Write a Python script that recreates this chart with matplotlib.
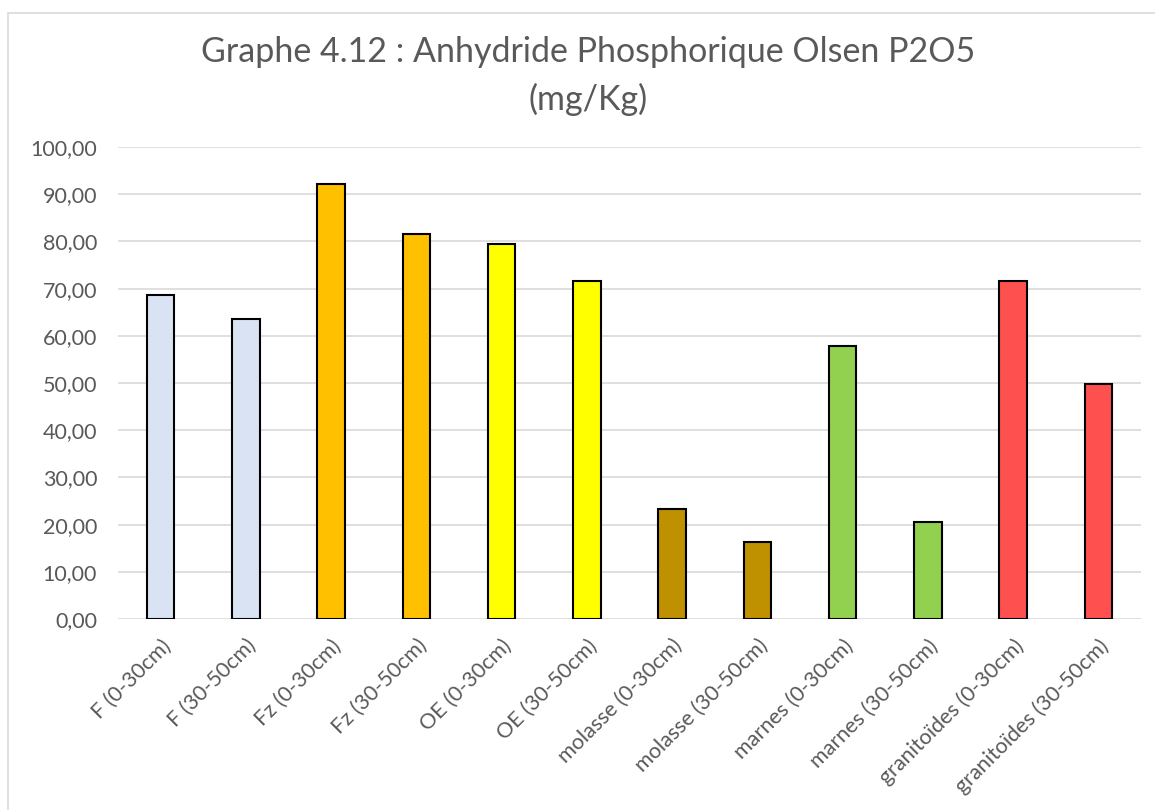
import matplotlib.pyplot as plt
from matplotlib.patches import Rectangle
from matplotlib.ticker import FuncFormatter

plt.rcParams['font.family'] = ['Lato', 'DejaVu Sans']

# P2O5 Olsen par formation et profondeur
categories = ['F (0-30cm)', 'F (30-50cm)', 'Fz (0-30cm)', 'Fz (30-50cm)',
              'OE (0-30cm)', 'OE (30-50cm)', 'molasse (0-30cm)', 'molasse (30-50cm)',
              'marnes (0-30cm)', 'marnes (30-50cm)', 'granitoïdes (0-30cm)', 'granitoïdes (30-50cm)']
values = [68.7, 63.6, 92.1, 81.5, 79.4, 71.7, 23.4, 16.4, 57.9, 20.5, 71.6, 49.8]
colors = ['#DAE3F3', '#DAE3F3', '#FFC000', '#FFC000', '#FFFF00', '#FFFF00',
          '#BF9000', '#BF9000', '#92D050', '#92D050', '#FF5050', '#FF5050']
yticks = [0, 10, 20, 30, 40, 50, 60, 70, 80, 90, 100]

txt = '#595959'
W, H = 1155, 810
fig = plt.figure(figsize=(W / 100, H / 100), dpi=100)
fig.patch.set_facecolor('white')

# cadre du graphique
fig.patches.append(Rectangle((8 / W, -0.05), 1.1, (H - 13) / H + 0.05,
                             transform=fig.transFigure, fill=False,
                             edgecolor='#D9D9D9', linewidth=1.2))

ax = fig.add_axes([118 / W, 1 - 619 / H, (1141 - 118) / W, (619 - 147) / H])
x = list(range(len(categories)))
ax.bar(x, values, width=0.32, color=colors, edgecolor='black', linewidth=1.5, zorder=3)

ax.set_xlim(-0.5, len(categories) - 0.5)
ax.set_ylim(0, 100)
ax.set_yticks(yticks)
ax.yaxis.set_major_formatter(FuncFormatter(lambda v, p: f'{v:.2f}'.replace('.', ',')))
ax.grid(axis='y', color='#D9D9D9', linewidth=1.2, zorder=0)
for s in ax.spines.values():
    s.set_visible(False)
ax.tick_params(axis='both', length=0, colors=txt)
ax.tick_params(axis='y', pad=15, labelsize=15.5)

ax.set_xticks(x)
ax.set_xticklabels(categories, rotation=45, ha='right', va='top',
                   rotation_mode='anchor', fontsize=15.5, color=txt)
ax.tick_params(axis='x', pad=12)

fig.text(0.509, 1 - 52 / H, 'Graphe 4.12 : Anhydride Phosphorique Olsen P2O5',
         ha='center', va='center', fontsize=24.5, color=txt)
fig.text(0.509, 1 - 99 / H, '(mg/Kg)', ha='center', va='center', fontsize=24.5, color=txt)

fig.savefig('out.png', dpi=100, facecolor='white')
